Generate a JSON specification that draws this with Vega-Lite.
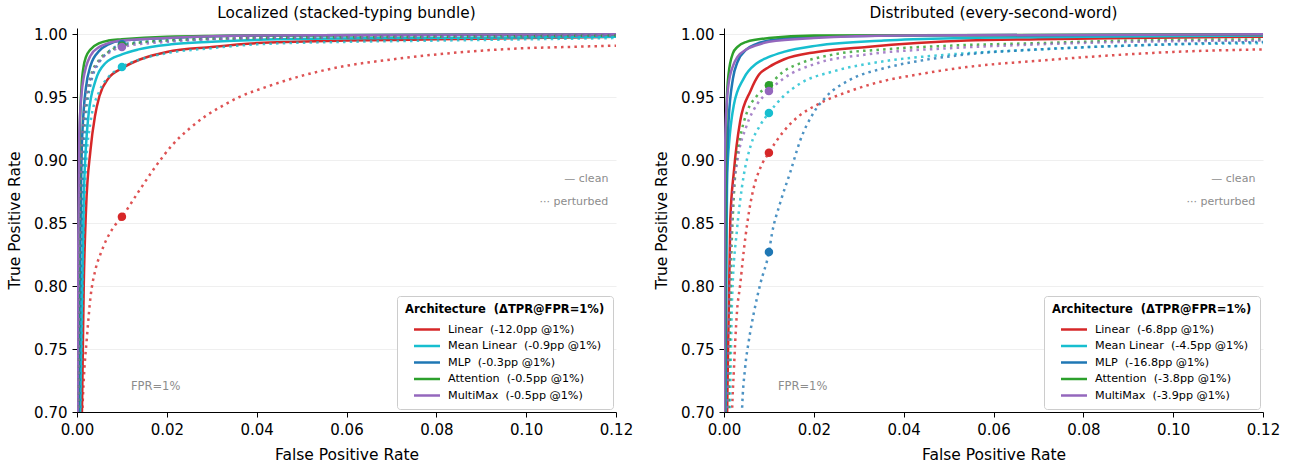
{
  "$schema": "https://vega.github.io/schema/vega-lite/v6.json",
  "background": "white",
  "padding": {"left": 7, "top": 5, "right": 5, "bottom": 3},
  "datasets": {
    "curves": [
      {"panel":"L","arch":"Linear","cond":"clean","fpr":0.0008,"tpr":0.65},
      {"panel":"L","arch":"Linear","cond":"clean","fpr":0.0011,"tpr":0.70},
      {"panel":"L","arch":"Linear","cond":"clean","fpr":0.0015,"tpr":0.80},
      {"panel":"L","arch":"Linear","cond":"clean","fpr":0.002,"tpr":0.86},
      {"panel":"L","arch":"Linear","cond":"clean","fpr":0.003,"tpr":0.908},
      {"panel":"L","arch":"Linear","cond":"clean","fpr":0.004,"tpr":0.935},
      {"panel":"L","arch":"Linear","cond":"clean","fpr":0.005,"tpr":0.951},
      {"panel":"L","arch":"Linear","cond":"clean","fpr":0.007,"tpr":0.965},
      {"panel":"L","arch":"Linear","cond":"clean","fpr":0.01,"tpr":0.973},
      {"panel":"L","arch":"Linear","cond":"clean","fpr":0.014,"tpr":0.98},
      {"panel":"L","arch":"Linear","cond":"clean","fpr":0.02,"tpr":0.986},
      {"panel":"L","arch":"Linear","cond":"clean","fpr":0.03,"tpr":0.99},
      {"panel":"L","arch":"Linear","cond":"clean","fpr":0.04,"tpr":0.993},
      {"panel":"L","arch":"Linear","cond":"clean","fpr":0.06,"tpr":0.995},
      {"panel":"L","arch":"Linear","cond":"clean","fpr":0.08,"tpr":0.996},
      {"panel":"L","arch":"Linear","cond":"clean","fpr":0.1,"tpr":0.997},
      {"panel":"L","arch":"Linear","cond":"clean","fpr":0.12,"tpr":0.998},

      {"panel":"L","arch":"Linear","cond":"perturbed","fpr":0.0009,"tpr":0.65},
      {"panel":"L","arch":"Linear","cond":"perturbed","fpr":0.0012,"tpr":0.70},
      {"panel":"L","arch":"Linear","cond":"perturbed","fpr":0.0015,"tpr":0.725},
      {"panel":"L","arch":"Linear","cond":"perturbed","fpr":0.0022,"tpr":0.759},
      {"panel":"L","arch":"Linear","cond":"perturbed","fpr":0.003,"tpr":0.791},
      {"panel":"L","arch":"Linear","cond":"perturbed","fpr":0.0041,"tpr":0.813},
      {"panel":"L","arch":"Linear","cond":"perturbed","fpr":0.0054,"tpr":0.827},
      {"panel":"L","arch":"Linear","cond":"perturbed","fpr":0.0067,"tpr":0.838},
      {"panel":"L","arch":"Linear","cond":"perturbed","fpr":0.0082,"tpr":0.847},
      {"panel":"L","arch":"Linear","cond":"perturbed","fpr":0.01,"tpr":0.855},
      {"panel":"L","arch":"Linear","cond":"perturbed","fpr":0.0137,"tpr":0.875},
      {"panel":"L","arch":"Linear","cond":"perturbed","fpr":0.0175,"tpr":0.895},
      {"panel":"L","arch":"Linear","cond":"perturbed","fpr":0.0212,"tpr":0.912},
      {"panel":"L","arch":"Linear","cond":"perturbed","fpr":0.025,"tpr":0.925},
      {"panel":"L","arch":"Linear","cond":"perturbed","fpr":0.0286,"tpr":0.935},
      {"panel":"L","arch":"Linear","cond":"perturbed","fpr":0.0323,"tpr":0.943},
      {"panel":"L","arch":"Linear","cond":"perturbed","fpr":0.036,"tpr":0.95},
      {"panel":"L","arch":"Linear","cond":"perturbed","fpr":0.042,"tpr":0.958},
      {"panel":"L","arch":"Linear","cond":"perturbed","fpr":0.05,"tpr":0.967},
      {"panel":"L","arch":"Linear","cond":"perturbed","fpr":0.06,"tpr":0.975},
      {"panel":"L","arch":"Linear","cond":"perturbed","fpr":0.07,"tpr":0.98},
      {"panel":"L","arch":"Linear","cond":"perturbed","fpr":0.08,"tpr":0.984},
      {"panel":"L","arch":"Linear","cond":"perturbed","fpr":0.09,"tpr":0.987},
      {"panel":"L","arch":"Linear","cond":"perturbed","fpr":0.1,"tpr":0.989},
      {"panel":"L","arch":"Linear","cond":"perturbed","fpr":0.11,"tpr":0.99},
      {"panel":"L","arch":"Linear","cond":"perturbed","fpr":0.12,"tpr":0.991},

      {"panel":"L","arch":"Mean Linear","cond":"clean","fpr":0.0005,"tpr":0.65},
      {"panel":"L","arch":"Mean Linear","cond":"clean","fpr":0.0009,"tpr":0.75},
      {"panel":"L","arch":"Mean Linear","cond":"clean","fpr":0.0015,"tpr":0.87},
      {"panel":"L","arch":"Mean Linear","cond":"clean","fpr":0.0026,"tpr":0.937},
      {"panel":"L","arch":"Mean Linear","cond":"clean","fpr":0.0041,"tpr":0.963},
      {"panel":"L","arch":"Mean Linear","cond":"clean","fpr":0.0063,"tpr":0.977},
      {"panel":"L","arch":"Mean Linear","cond":"clean","fpr":0.01,"tpr":0.984},
      {"panel":"L","arch":"Mean Linear","cond":"clean","fpr":0.0137,"tpr":0.988},
      {"panel":"L","arch":"Mean Linear","cond":"clean","fpr":0.021,"tpr":0.992},
      {"panel":"L","arch":"Mean Linear","cond":"clean","fpr":0.03,"tpr":0.994},
      {"panel":"L","arch":"Mean Linear","cond":"clean","fpr":0.045,"tpr":0.996},
      {"panel":"L","arch":"Mean Linear","cond":"clean","fpr":0.07,"tpr":0.997},
      {"panel":"L","arch":"Mean Linear","cond":"clean","fpr":0.12,"tpr":0.998},

      {"panel":"L","arch":"Mean Linear","cond":"perturbed","fpr":0.0006,"tpr":0.65},
      {"panel":"L","arch":"Mean Linear","cond":"perturbed","fpr":0.001,"tpr":0.75},
      {"panel":"L","arch":"Mean Linear","cond":"perturbed","fpr":0.0015,"tpr":0.85},
      {"panel":"L","arch":"Mean Linear","cond":"perturbed","fpr":0.002,"tpr":0.895},
      {"panel":"L","arch":"Mean Linear","cond":"perturbed","fpr":0.003,"tpr":0.93},
      {"panel":"L","arch":"Mean Linear","cond":"perturbed","fpr":0.005,"tpr":0.955},
      {"panel":"L","arch":"Mean Linear","cond":"perturbed","fpr":0.007,"tpr":0.966},
      {"panel":"L","arch":"Mean Linear","cond":"perturbed","fpr":0.01,"tpr":0.974},
      {"panel":"L","arch":"Mean Linear","cond":"perturbed","fpr":0.015,"tpr":0.981},
      {"panel":"L","arch":"Mean Linear","cond":"perturbed","fpr":0.02,"tpr":0.985},
      {"panel":"L","arch":"Mean Linear","cond":"perturbed","fpr":0.03,"tpr":0.989},
      {"panel":"L","arch":"Mean Linear","cond":"perturbed","fpr":0.04,"tpr":0.992},
      {"panel":"L","arch":"Mean Linear","cond":"perturbed","fpr":0.06,"tpr":0.994},
      {"panel":"L","arch":"Mean Linear","cond":"perturbed","fpr":0.08,"tpr":0.995},
      {"panel":"L","arch":"Mean Linear","cond":"perturbed","fpr":0.12,"tpr":0.997},

      {"panel":"L","arch":"MLP","cond":"clean","fpr":0.0003,"tpr":0.65},
      {"panel":"L","arch":"MLP","cond":"clean","fpr":0.0006,"tpr":0.80},
      {"panel":"L","arch":"MLP","cond":"clean","fpr":0.001,"tpr":0.90},
      {"panel":"L","arch":"MLP","cond":"clean","fpr":0.0015,"tpr":0.94},
      {"panel":"L","arch":"MLP","cond":"clean","fpr":0.002,"tpr":0.958},
      {"panel":"L","arch":"MLP","cond":"clean","fpr":0.003,"tpr":0.975},
      {"panel":"L","arch":"MLP","cond":"clean","fpr":0.005,"tpr":0.987},
      {"panel":"L","arch":"MLP","cond":"clean","fpr":0.007,"tpr":0.992},
      {"panel":"L","arch":"MLP","cond":"clean","fpr":0.01,"tpr":0.995},
      {"panel":"L","arch":"MLP","cond":"clean","fpr":0.02,"tpr":0.997},
      {"panel":"L","arch":"MLP","cond":"clean","fpr":0.04,"tpr":0.999},
      {"panel":"L","arch":"MLP","cond":"clean","fpr":0.12,"tpr":1.0},

      {"panel":"L","arch":"MLP","cond":"perturbed","fpr":0.0004,"tpr":0.65},
      {"panel":"L","arch":"MLP","cond":"perturbed","fpr":0.0008,"tpr":0.80},
      {"panel":"L","arch":"MLP","cond":"perturbed","fpr":0.0012,"tpr":0.88},
      {"panel":"L","arch":"MLP","cond":"perturbed","fpr":0.002,"tpr":0.935},
      {"panel":"L","arch":"MLP","cond":"perturbed","fpr":0.003,"tpr":0.96},
      {"panel":"L","arch":"MLP","cond":"perturbed","fpr":0.005,"tpr":0.978},
      {"panel":"L","arch":"MLP","cond":"perturbed","fpr":0.007,"tpr":0.986},
      {"panel":"L","arch":"MLP","cond":"perturbed","fpr":0.01,"tpr":0.992},
      {"panel":"L","arch":"MLP","cond":"perturbed","fpr":0.02,"tpr":0.995},
      {"panel":"L","arch":"MLP","cond":"perturbed","fpr":0.04,"tpr":0.997},
      {"panel":"L","arch":"MLP","cond":"perturbed","fpr":0.08,"tpr":0.998},
      {"panel":"L","arch":"MLP","cond":"perturbed","fpr":0.12,"tpr":0.999},

      {"panel":"L","arch":"Attention","cond":"clean","fpr":0.0001,"tpr":0.60},
      {"panel":"L","arch":"Attention","cond":"clean","fpr":0.0003,"tpr":0.80},
      {"panel":"L","arch":"Attention","cond":"clean","fpr":0.0006,"tpr":0.92},
      {"panel":"L","arch":"Attention","cond":"clean","fpr":0.001,"tpr":0.958},
      {"panel":"L","arch":"Attention","cond":"clean","fpr":0.0015,"tpr":0.975},
      {"panel":"L","arch":"Attention","cond":"clean","fpr":0.002,"tpr":0.982},
      {"panel":"L","arch":"Attention","cond":"clean","fpr":0.003,"tpr":0.988},
      {"panel":"L","arch":"Attention","cond":"clean","fpr":0.005,"tpr":0.993},
      {"panel":"L","arch":"Attention","cond":"clean","fpr":0.007,"tpr":0.995},
      {"panel":"L","arch":"Attention","cond":"clean","fpr":0.01,"tpr":0.996},
      {"panel":"L","arch":"Attention","cond":"clean","fpr":0.02,"tpr":0.998},
      {"panel":"L","arch":"Attention","cond":"clean","fpr":0.04,"tpr":0.999},
      {"panel":"L","arch":"Attention","cond":"clean","fpr":0.12,"tpr":1.0},

      {"panel":"L","arch":"Attention","cond":"perturbed","fpr":0.0003,"tpr":0.65},
      {"panel":"L","arch":"Attention","cond":"perturbed","fpr":0.0006,"tpr":0.82},
      {"panel":"L","arch":"Attention","cond":"perturbed","fpr":0.001,"tpr":0.90},
      {"panel":"L","arch":"Attention","cond":"perturbed","fpr":0.002,"tpr":0.948},
      {"panel":"L","arch":"Attention","cond":"perturbed","fpr":0.003,"tpr":0.966},
      {"panel":"L","arch":"Attention","cond":"perturbed","fpr":0.005,"tpr":0.98},
      {"panel":"L","arch":"Attention","cond":"perturbed","fpr":0.007,"tpr":0.986},
      {"panel":"L","arch":"Attention","cond":"perturbed","fpr":0.01,"tpr":0.991},
      {"panel":"L","arch":"Attention","cond":"perturbed","fpr":0.02,"tpr":0.995},
      {"panel":"L","arch":"Attention","cond":"perturbed","fpr":0.04,"tpr":0.997},
      {"panel":"L","arch":"Attention","cond":"perturbed","fpr":0.08,"tpr":0.998},
      {"panel":"L","arch":"Attention","cond":"perturbed","fpr":0.12,"tpr":0.999},

      {"panel":"L","arch":"MultiMax","cond":"clean","fpr":0.0001,"tpr":0.60},
      {"panel":"L","arch":"MultiMax","cond":"clean","fpr":0.0002,"tpr":0.80},
      {"panel":"L","arch":"MultiMax","cond":"clean","fpr":0.0005,"tpr":0.92},
      {"panel":"L","arch":"MultiMax","cond":"clean","fpr":0.001,"tpr":0.952},
      {"panel":"L","arch":"MultiMax","cond":"clean","fpr":0.0015,"tpr":0.966},
      {"panel":"L","arch":"MultiMax","cond":"clean","fpr":0.002,"tpr":0.974},
      {"panel":"L","arch":"MultiMax","cond":"clean","fpr":0.003,"tpr":0.983},
      {"panel":"L","arch":"MultiMax","cond":"clean","fpr":0.005,"tpr":0.99},
      {"panel":"L","arch":"MultiMax","cond":"clean","fpr":0.007,"tpr":0.993},
      {"panel":"L","arch":"MultiMax","cond":"clean","fpr":0.01,"tpr":0.995},
      {"panel":"L","arch":"MultiMax","cond":"clean","fpr":0.02,"tpr":0.997},
      {"panel":"L","arch":"MultiMax","cond":"clean","fpr":0.04,"tpr":0.999},
      {"panel":"L","arch":"MultiMax","cond":"clean","fpr":0.12,"tpr":1.0},

      {"panel":"L","arch":"MultiMax","cond":"perturbed","fpr":0.0002,"tpr":0.65},
      {"panel":"L","arch":"MultiMax","cond":"perturbed","fpr":0.0005,"tpr":0.82},
      {"panel":"L","arch":"MultiMax","cond":"perturbed","fpr":0.001,"tpr":0.905},
      {"panel":"L","arch":"MultiMax","cond":"perturbed","fpr":0.002,"tpr":0.95},
      {"panel":"L","arch":"MultiMax","cond":"perturbed","fpr":0.003,"tpr":0.965},
      {"panel":"L","arch":"MultiMax","cond":"perturbed","fpr":0.005,"tpr":0.979},
      {"panel":"L","arch":"MultiMax","cond":"perturbed","fpr":0.007,"tpr":0.985},
      {"panel":"L","arch":"MultiMax","cond":"perturbed","fpr":0.01,"tpr":0.99},
      {"panel":"L","arch":"MultiMax","cond":"perturbed","fpr":0.02,"tpr":0.994},
      {"panel":"L","arch":"MultiMax","cond":"perturbed","fpr":0.04,"tpr":0.997},
      {"panel":"L","arch":"MultiMax","cond":"perturbed","fpr":0.08,"tpr":0.998},
      {"panel":"L","arch":"MultiMax","cond":"perturbed","fpr":0.12,"tpr":0.999},

      {"panel":"R","arch":"Linear","cond":"clean","fpr":0.0005,"tpr":0.65},
      {"panel":"R","arch":"Linear","cond":"clean","fpr":0.0007,"tpr":0.70},
      {"panel":"R","arch":"Linear","cond":"clean","fpr":0.0014,"tpr":0.852},
      {"panel":"R","arch":"Linear","cond":"clean","fpr":0.0022,"tpr":0.891},
      {"panel":"R","arch":"Linear","cond":"clean","fpr":0.0036,"tpr":0.931},
      {"panel":"R","arch":"Linear","cond":"clean","fpr":0.0059,"tpr":0.955},
      {"panel":"R","arch":"Linear","cond":"clean","fpr":0.0078,"tpr":0.968},
      {"panel":"R","arch":"Linear","cond":"clean","fpr":0.01,"tpr":0.974},
      {"panel":"R","arch":"Linear","cond":"clean","fpr":0.0133,"tpr":0.98},
      {"panel":"R","arch":"Linear","cond":"clean","fpr":0.0207,"tpr":0.986},
      {"panel":"R","arch":"Linear","cond":"clean","fpr":0.0318,"tpr":0.99},
      {"panel":"R","arch":"Linear","cond":"clean","fpr":0.043,"tpr":0.993},
      {"panel":"R","arch":"Linear","cond":"clean","fpr":0.054,"tpr":0.995},
      {"panel":"R","arch":"Linear","cond":"clean","fpr":0.07,"tpr":0.996},
      {"panel":"R","arch":"Linear","cond":"clean","fpr":0.09,"tpr":0.997},
      {"panel":"R","arch":"Linear","cond":"clean","fpr":0.12,"tpr":0.998},

      {"panel":"R","arch":"Linear","cond":"perturbed","fpr":0.0015,"tpr":0.65},
      {"panel":"R","arch":"Linear","cond":"perturbed","fpr":0.0018,"tpr":0.70},
      {"panel":"R","arch":"Linear","cond":"perturbed","fpr":0.0022,"tpr":0.733},
      {"panel":"R","arch":"Linear","cond":"perturbed","fpr":0.0025,"tpr":0.756},
      {"panel":"R","arch":"Linear","cond":"perturbed","fpr":0.0029,"tpr":0.78},
      {"panel":"R","arch":"Linear","cond":"perturbed","fpr":0.0036,"tpr":0.801},
      {"panel":"R","arch":"Linear","cond":"perturbed","fpr":0.0044,"tpr":0.828},
      {"panel":"R","arch":"Linear","cond":"perturbed","fpr":0.0059,"tpr":0.866},
      {"panel":"R","arch":"Linear","cond":"perturbed","fpr":0.0066,"tpr":0.878},
      {"panel":"R","arch":"Linear","cond":"perturbed","fpr":0.0081,"tpr":0.894},
      {"panel":"R","arch":"Linear","cond":"perturbed","fpr":0.01,"tpr":0.906},
      {"panel":"R","arch":"Linear","cond":"perturbed","fpr":0.0133,"tpr":0.923},
      {"panel":"R","arch":"Linear","cond":"perturbed","fpr":0.017,"tpr":0.936},
      {"panel":"R","arch":"Linear","cond":"perturbed","fpr":0.0207,"tpr":0.944},
      {"panel":"R","arch":"Linear","cond":"perturbed","fpr":0.0281,"tpr":0.955},
      {"panel":"R","arch":"Linear","cond":"perturbed","fpr":0.0356,"tpr":0.963},
      {"panel":"R","arch":"Linear","cond":"perturbed","fpr":0.043,"tpr":0.968},
      {"panel":"R","arch":"Linear","cond":"perturbed","fpr":0.054,"tpr":0.974},
      {"panel":"R","arch":"Linear","cond":"perturbed","fpr":0.07,"tpr":0.979},
      {"panel":"R","arch":"Linear","cond":"perturbed","fpr":0.085,"tpr":0.983},
      {"panel":"R","arch":"Linear","cond":"perturbed","fpr":0.1,"tpr":0.986},
      {"panel":"R","arch":"Linear","cond":"perturbed","fpr":0.12,"tpr":0.988},

      {"panel":"R","arch":"Mean Linear","cond":"clean","fpr":0.0003,"tpr":0.65},
      {"panel":"R","arch":"Mean Linear","cond":"clean","fpr":0.0004,"tpr":0.75},
      {"panel":"R","arch":"Mean Linear","cond":"clean","fpr":0.0007,"tpr":0.89},
      {"panel":"R","arch":"Mean Linear","cond":"clean","fpr":0.0022,"tpr":0.944},
      {"panel":"R","arch":"Mean Linear","cond":"clean","fpr":0.0044,"tpr":0.965},
      {"panel":"R","arch":"Mean Linear","cond":"clean","fpr":0.0073,"tpr":0.977},
      {"panel":"R","arch":"Mean Linear","cond":"clean","fpr":0.01,"tpr":0.982},
      {"panel":"R","arch":"Mean Linear","cond":"clean","fpr":0.0133,"tpr":0.986},
      {"panel":"R","arch":"Mean Linear","cond":"clean","fpr":0.0207,"tpr":0.991},
      {"panel":"R","arch":"Mean Linear","cond":"clean","fpr":0.0356,"tpr":0.995},
      {"panel":"R","arch":"Mean Linear","cond":"clean","fpr":0.054,"tpr":0.997},
      {"panel":"R","arch":"Mean Linear","cond":"clean","fpr":0.08,"tpr":0.998},
      {"panel":"R","arch":"Mean Linear","cond":"clean","fpr":0.12,"tpr":0.999},

      {"panel":"R","arch":"Mean Linear","cond":"perturbed","fpr":0.001,"tpr":0.65},
      {"panel":"R","arch":"Mean Linear","cond":"perturbed","fpr":0.0013,"tpr":0.70},
      {"panel":"R","arch":"Mean Linear","cond":"perturbed","fpr":0.0018,"tpr":0.79},
      {"panel":"R","arch":"Mean Linear","cond":"perturbed","fpr":0.0029,"tpr":0.845},
      {"panel":"R","arch":"Mean Linear","cond":"perturbed","fpr":0.0036,"tpr":0.868},
      {"panel":"R","arch":"Mean Linear","cond":"perturbed","fpr":0.0044,"tpr":0.888},
      {"panel":"R","arch":"Mean Linear","cond":"perturbed","fpr":0.0059,"tpr":0.911},
      {"panel":"R","arch":"Mean Linear","cond":"perturbed","fpr":0.0081,"tpr":0.928},
      {"panel":"R","arch":"Mean Linear","cond":"perturbed","fpr":0.01,"tpr":0.9375},
      {"panel":"R","arch":"Mean Linear","cond":"perturbed","fpr":0.0133,"tpr":0.951},
      {"panel":"R","arch":"Mean Linear","cond":"perturbed","fpr":0.017,"tpr":0.961},
      {"panel":"R","arch":"Mean Linear","cond":"perturbed","fpr":0.0244,"tpr":0.9706},
      {"panel":"R","arch":"Mean Linear","cond":"perturbed","fpr":0.0356,"tpr":0.9786},
      {"panel":"R","arch":"Mean Linear","cond":"perturbed","fpr":0.0504,"tpr":0.984},
      {"panel":"R","arch":"Mean Linear","cond":"perturbed","fpr":0.07,"tpr":0.988},
      {"panel":"R","arch":"Mean Linear","cond":"perturbed","fpr":0.09,"tpr":0.991},
      {"panel":"R","arch":"Mean Linear","cond":"perturbed","fpr":0.12,"tpr":0.993},

      {"panel":"R","arch":"MLP","cond":"clean","fpr":0.0002,"tpr":0.65},
      {"panel":"R","arch":"MLP","cond":"clean","fpr":0.0005,"tpr":0.85},
      {"panel":"R","arch":"MLP","cond":"clean","fpr":0.001,"tpr":0.93},
      {"panel":"R","arch":"MLP","cond":"clean","fpr":0.002,"tpr":0.965},
      {"panel":"R","arch":"MLP","cond":"clean","fpr":0.003,"tpr":0.978},
      {"panel":"R","arch":"MLP","cond":"clean","fpr":0.005,"tpr":0.988},
      {"panel":"R","arch":"MLP","cond":"clean","fpr":0.007,"tpr":0.992},
      {"panel":"R","arch":"MLP","cond":"clean","fpr":0.01,"tpr":0.995},
      {"panel":"R","arch":"MLP","cond":"clean","fpr":0.02,"tpr":0.998},
      {"panel":"R","arch":"MLP","cond":"clean","fpr":0.04,"tpr":0.999},
      {"panel":"R","arch":"MLP","cond":"clean","fpr":0.12,"tpr":1.0},

      {"panel":"R","arch":"MLP","cond":"perturbed","fpr":0.0036,"tpr":0.65},
      {"panel":"R","arch":"MLP","cond":"perturbed","fpr":0.004,"tpr":0.70},
      {"panel":"R","arch":"MLP","cond":"perturbed","fpr":0.0047,"tpr":0.735},
      {"panel":"R","arch":"MLP","cond":"perturbed","fpr":0.0055,"tpr":0.756},
      {"panel":"R","arch":"MLP","cond":"perturbed","fpr":0.0066,"tpr":0.778},
      {"panel":"R","arch":"MLP","cond":"perturbed","fpr":0.0081,"tpr":0.802},
      {"panel":"R","arch":"MLP","cond":"perturbed","fpr":0.01,"tpr":0.827},
      {"panel":"R","arch":"MLP","cond":"perturbed","fpr":0.0107,"tpr":0.842},
      {"panel":"R","arch":"MLP","cond":"perturbed","fpr":0.0125,"tpr":0.866},
      {"panel":"R","arch":"MLP","cond":"perturbed","fpr":0.0148,"tpr":0.891},
      {"panel":"R","arch":"MLP","cond":"perturbed","fpr":0.017,"tpr":0.916},
      {"panel":"R","arch":"MLP","cond":"perturbed","fpr":0.02,"tpr":0.938},
      {"panel":"R","arch":"MLP","cond":"perturbed","fpr":0.0229,"tpr":0.951},
      {"panel":"R","arch":"MLP","cond":"perturbed","fpr":0.0281,"tpr":0.964},
      {"panel":"R","arch":"MLP","cond":"perturbed","fpr":0.0356,"tpr":0.973},
      {"panel":"R","arch":"MLP","cond":"perturbed","fpr":0.043,"tpr":0.9786},
      {"panel":"R","arch":"MLP","cond":"perturbed","fpr":0.054,"tpr":0.984},
      {"panel":"R","arch":"MLP","cond":"perturbed","fpr":0.07,"tpr":0.988},
      {"panel":"R","arch":"MLP","cond":"perturbed","fpr":0.09,"tpr":0.991},
      {"panel":"R","arch":"MLP","cond":"perturbed","fpr":0.12,"tpr":0.994},

      {"panel":"R","arch":"Attention","cond":"clean","fpr":0.0001,"tpr":0.65},
      {"panel":"R","arch":"Attention","cond":"clean","fpr":0.0003,"tpr":0.88},
      {"panel":"R","arch":"Attention","cond":"clean","fpr":0.0006,"tpr":0.945},
      {"panel":"R","arch":"Attention","cond":"clean","fpr":0.001,"tpr":0.968},
      {"panel":"R","arch":"Attention","cond":"clean","fpr":0.002,"tpr":0.985},
      {"panel":"R","arch":"Attention","cond":"clean","fpr":0.003,"tpr":0.99},
      {"panel":"R","arch":"Attention","cond":"clean","fpr":0.005,"tpr":0.994},
      {"panel":"R","arch":"Attention","cond":"clean","fpr":0.01,"tpr":0.997},
      {"panel":"R","arch":"Attention","cond":"clean","fpr":0.02,"tpr":0.999},
      {"panel":"R","arch":"Attention","cond":"clean","fpr":0.12,"tpr":1.0},

      {"panel":"R","arch":"Attention","cond":"perturbed","fpr":0.0007,"tpr":0.65},
      {"panel":"R","arch":"Attention","cond":"perturbed","fpr":0.001,"tpr":0.70},
      {"panel":"R","arch":"Attention","cond":"perturbed","fpr":0.0014,"tpr":0.79},
      {"panel":"R","arch":"Attention","cond":"perturbed","fpr":0.0022,"tpr":0.872},
      {"panel":"R","arch":"Attention","cond":"perturbed","fpr":0.0029,"tpr":0.903},
      {"panel":"R","arch":"Attention","cond":"perturbed","fpr":0.0036,"tpr":0.918},
      {"panel":"R","arch":"Attention","cond":"perturbed","fpr":0.0051,"tpr":0.938},
      {"panel":"R","arch":"Attention","cond":"perturbed","fpr":0.0073,"tpr":0.951},
      {"panel":"R","arch":"Attention","cond":"perturbed","fpr":0.01,"tpr":0.9595},
      {"panel":"R","arch":"Attention","cond":"perturbed","fpr":0.0133,"tpr":0.9706},
      {"panel":"R","arch":"Attention","cond":"perturbed","fpr":0.017,"tpr":0.977},
      {"panel":"R","arch":"Attention","cond":"perturbed","fpr":0.0244,"tpr":0.984},
      {"panel":"R","arch":"Attention","cond":"perturbed","fpr":0.0356,"tpr":0.988},
      {"panel":"R","arch":"Attention","cond":"perturbed","fpr":0.0504,"tpr":0.991},
      {"panel":"R","arch":"Attention","cond":"perturbed","fpr":0.07,"tpr":0.993},
      {"panel":"R","arch":"Attention","cond":"perturbed","fpr":0.09,"tpr":0.995},
      {"panel":"R","arch":"Attention","cond":"perturbed","fpr":0.12,"tpr":0.996},

      {"panel":"R","arch":"MultiMax","cond":"clean","fpr":0.00005,"tpr":0.65},
      {"panel":"R","arch":"MultiMax","cond":"clean","fpr":0.0001,"tpr":0.85},
      {"panel":"R","arch":"MultiMax","cond":"clean","fpr":0.0003,"tpr":0.92},
      {"panel":"R","arch":"MultiMax","cond":"clean","fpr":0.0006,"tpr":0.945},
      {"panel":"R","arch":"MultiMax","cond":"clean","fpr":0.001,"tpr":0.96},
      {"panel":"R","arch":"MultiMax","cond":"clean","fpr":0.002,"tpr":0.975},
      {"panel":"R","arch":"MultiMax","cond":"clean","fpr":0.003,"tpr":0.982},
      {"panel":"R","arch":"MultiMax","cond":"clean","fpr":0.005,"tpr":0.988},
      {"panel":"R","arch":"MultiMax","cond":"clean","fpr":0.007,"tpr":0.991},
      {"panel":"R","arch":"MultiMax","cond":"clean","fpr":0.01,"tpr":0.994},
      {"panel":"R","arch":"MultiMax","cond":"clean","fpr":0.02,"tpr":0.997},
      {"panel":"R","arch":"MultiMax","cond":"clean","fpr":0.04,"tpr":0.999},
      {"panel":"R","arch":"MultiMax","cond":"clean","fpr":0.12,"tpr":1.0},

      {"panel":"R","arch":"MultiMax","cond":"perturbed","fpr":0.0005,"tpr":0.65},
      {"panel":"R","arch":"MultiMax","cond":"perturbed","fpr":0.0008,"tpr":0.70},
      {"panel":"R","arch":"MultiMax","cond":"perturbed","fpr":0.0014,"tpr":0.82},
      {"panel":"R","arch":"MultiMax","cond":"perturbed","fpr":0.002,"tpr":0.87},
      {"panel":"R","arch":"MultiMax","cond":"perturbed","fpr":0.003,"tpr":0.90},
      {"panel":"R","arch":"MultiMax","cond":"perturbed","fpr":0.005,"tpr":0.927},
      {"panel":"R","arch":"MultiMax","cond":"perturbed","fpr":0.0073,"tpr":0.944},
      {"panel":"R","arch":"MultiMax","cond":"perturbed","fpr":0.01,"tpr":0.955},
      {"panel":"R","arch":"MultiMax","cond":"perturbed","fpr":0.0133,"tpr":0.965},
      {"panel":"R","arch":"MultiMax","cond":"perturbed","fpr":0.0207,"tpr":0.977},
      {"panel":"R","arch":"MultiMax","cond":"perturbed","fpr":0.0318,"tpr":0.984},
      {"panel":"R","arch":"MultiMax","cond":"perturbed","fpr":0.0504,"tpr":0.989},
      {"panel":"R","arch":"MultiMax","cond":"perturbed","fpr":0.07,"tpr":0.992},
      {"panel":"R","arch":"MultiMax","cond":"perturbed","fpr":0.09,"tpr":0.994},
      {"panel":"R","arch":"MultiMax","cond":"perturbed","fpr":0.12,"tpr":0.995}
    ],
    "dots": [
      {"panel":"L","arch":"Linear","fpr":0.01,"tpr":0.855},
      {"panel":"L","arch":"Mean Linear","fpr":0.01,"tpr":0.974},
      {"panel":"L","arch":"MLP","fpr":0.01,"tpr":0.992},
      {"panel":"L","arch":"Attention","fpr":0.01,"tpr":0.991},
      {"panel":"L","arch":"MultiMax","fpr":0.01,"tpr":0.990},
      {"panel":"R","arch":"Linear","fpr":0.01,"tpr":0.906},
      {"panel":"R","arch":"Mean Linear","fpr":0.01,"tpr":0.9375},
      {"panel":"R","arch":"MLP","fpr":0.01,"tpr":0.827},
      {"panel":"R","arch":"Attention","fpr":0.01,"tpr":0.9595},
      {"panel":"R","arch":"MultiMax","fpr":0.01,"tpr":0.955}
    ],
    "notes": [
      {"fpr":0.1183,"tpr":0.885,"txt":"— clean"},
      {"fpr":0.1183,"tpr":0.8667,"txt":"··· perturbed"}
    ],
    "marker": [
      {"fpr":0.012,"tpr":0.7198,"txt":"FPR=1%"}
    ]
  },
  "hconcat": [
    {
      "width": 539, "height": 384,
      "title": "Localized (stacked-typing bundle)",
      "layer": [
        {
          "mark": {"type": "rule", "color": "#888888", "strokeWidth": 1, "strokeDash": [1.5, 2.5]},
          "encoding": {"x": {"datum": 0.01, "type": "quantitative"}}
        },
        {
          "data": {"name": "curves"},
          "transform": [{"filter": "datum.panel === 'L' && datum.cond === 'clean'"}],
          "mark": {"type": "line", "clip": true, "strokeWidth": 2.5, "interpolate": "monotone"},
          "encoding": {
            "x": {"field": "fpr", "type": "quantitative", "scale": {"domain": [0, 0.12], "nice": false, "zero": false},
                  "axis": {"values": [0, 0.02, 0.04, 0.06, 0.08, 0.1, 0.12], "format": ".2f", "title": "False Positive Rate"}},
            "y": {"field": "tpr", "type": "quantitative", "scale": {"domain": [0.7, 1.005], "nice": false, "zero": false},
                  "axis": {"values": [0.7, 0.75, 0.8, 0.85, 0.9, 0.95, 1.0], "format": ".2f", "title": "True Positive Rate"}},
            "color": {"field": "arch", "type": "nominal",
                      "scale": {"domain": ["Linear", "Mean Linear", "MLP", "Attention", "MultiMax"], "range": ["#d62728", "#17becf", "#1f77b4", "#2ca02c", "#9467bd"]},
                      "legend": {"title": "Architecture\u00a0 (ΔTPR@FPR=1%)",
                                 "labelExpr": "{'Linear':'Linear\u00a0 (-12.0pp @1%)','Mean Linear':'Mean Linear\u00a0 (-0.9pp @1%)','MLP':'MLP\u00a0 (-0.3pp @1%)','Attention':'Attention\u00a0 (-0.5pp @1%)','MultiMax':'MultiMax\u00a0 (-0.5pp @1%)'}[datum.label]"}}
          }
        },
        {
          "data": {"name": "curves"},
          "transform": [{"filter": "datum.panel === 'L' && datum.cond === 'perturbed'"}],
          "mark": {"type": "line", "clip": true, "strokeWidth": 2.5, "strokeDash": [2.5, 4.2], "opacity": 0.8, "interpolate": "monotone"},
          "encoding": {
            "x": {"field": "fpr", "type": "quantitative"},
            "y": {"field": "tpr", "type": "quantitative"},
            "color": {"field": "arch", "type": "nominal", "legend": null}
          }
        },
        {
          "data": {"name": "dots"},
          "transform": [{"filter": "datum.panel === 'L'"}],
          "mark": {"type": "circle", "size": 72, "opacity": 1},
          "encoding": {
            "x": {"field": "fpr", "type": "quantitative"},
            "y": {"field": "tpr", "type": "quantitative"},
            "color": {"field": "arch", "type": "nominal", "legend": null}
          }
        },
        {
          "data": {"name": "notes"},
          "mark": {"type": "text", "fontSize": 11, "color": "#8c8c8c", "baseline": "middle", "align": "right"},
          "encoding": {
            "x": {"field": "fpr", "type": "quantitative"},
            "y": {"field": "tpr", "type": "quantitative"},
            "text": {"field": "txt"}
          }
        },
        {
          "data": {"name": "marker"},
          "mark": {"type": "text", "fontSize": 11.5, "color": "#8c8c8c", "baseline": "middle", "align": "left"},
          "encoding": {
            "x": {"field": "fpr", "type": "quantitative"},
            "y": {"field": "tpr", "type": "quantitative"},
            "text": {"field": "txt"}
          }
        }
      ]
    },
    {
      "width": 539, "height": 384,
      "title": "Distributed (every-second-word)",
      "layer": [
        {
          "mark": {"type": "rule", "color": "#888888", "strokeWidth": 1, "strokeDash": [1.5, 2.5]},
          "encoding": {"x": {"datum": 0.01, "type": "quantitative"}}
        },
        {
          "data": {"name": "curves"},
          "transform": [{"filter": "datum.panel === 'R' && datum.cond === 'clean'"}],
          "mark": {"type": "line", "clip": true, "strokeWidth": 2.5, "interpolate": "monotone"},
          "encoding": {
            "x": {"field": "fpr", "type": "quantitative", "scale": {"domain": [0, 0.12], "nice": false, "zero": false},
                  "axis": {"values": [0, 0.02, 0.04, 0.06, 0.08, 0.1, 0.12], "format": ".2f", "title": "False Positive Rate"}},
            "y": {"field": "tpr", "type": "quantitative", "scale": {"domain": [0.7, 1.005], "nice": false, "zero": false},
                  "axis": {"values": [0.7, 0.75, 0.8, 0.85, 0.9, 0.95, 1.0], "format": ".2f", "title": "True Positive Rate"}},
            "color": {"field": "arch", "type": "nominal",
                      "scale": {"domain": ["Linear", "Mean Linear", "MLP", "Attention", "MultiMax"], "range": ["#d62728", "#17becf", "#1f77b4", "#2ca02c", "#9467bd"]},
                      "legend": {"title": "Architecture\u00a0 (ΔTPR@FPR=1%)",
                                 "labelExpr": "{'Linear':'Linear\u00a0 (-6.8pp @1%)','Mean Linear':'Mean Linear\u00a0 (-4.5pp @1%)','MLP':'MLP\u00a0 (-16.8pp @1%)','Attention':'Attention\u00a0 (-3.8pp @1%)','MultiMax':'MultiMax\u00a0 (-3.9pp @1%)'}[datum.label]"}}
          }
        },
        {
          "data": {"name": "curves"},
          "transform": [{"filter": "datum.panel === 'R' && datum.cond === 'perturbed'"}],
          "mark": {"type": "line", "clip": true, "strokeWidth": 2.5, "strokeDash": [2.5, 4.2], "opacity": 0.8, "interpolate": "monotone"},
          "encoding": {
            "x": {"field": "fpr", "type": "quantitative"},
            "y": {"field": "tpr", "type": "quantitative"},
            "color": {"field": "arch", "type": "nominal", "legend": null}
          }
        },
        {
          "data": {"name": "dots"},
          "transform": [{"filter": "datum.panel === 'R'"}],
          "mark": {"type": "circle", "size": 72, "opacity": 1},
          "encoding": {
            "x": {"field": "fpr", "type": "quantitative"},
            "y": {"field": "tpr", "type": "quantitative"},
            "color": {"field": "arch", "type": "nominal", "legend": null}
          }
        },
        {
          "data": {"name": "notes"},
          "mark": {"type": "text", "fontSize": 11, "color": "#8c8c8c", "baseline": "middle", "align": "right"},
          "encoding": {
            "x": {"field": "fpr", "type": "quantitative"},
            "y": {"field": "tpr", "type": "quantitative"},
            "text": {"field": "txt"}
          }
        },
        {
          "data": {"name": "marker"},
          "mark": {"type": "text", "fontSize": 11.5, "color": "#8c8c8c", "baseline": "middle", "align": "left"},
          "encoding": {
            "x": {"field": "fpr", "type": "quantitative"},
            "y": {"field": "tpr", "type": "quantitative"},
            "text": {"field": "txt"}
          }
        }
      ]
    }
  ],
  "spacing": 108,
  "bounds": "flush",
  "resolve": {"scale": {"color": "independent"}, "legend": {"color": "independent"}},
  "config": {
    "view": {"stroke": null},
    "font": "DejaVu Sans",
    "axis": {"domainColor": "#000000", "domainWidth": 1, "tickColor": "#000000", "tickSize": 5, "tickWidth": 1,
             "labelFont": "DejaVu Sans", "labelFontSize": 15, "labelColor": "#000000", "labelPadding": 5, "labelFlush": false,
             "titleFont": "DejaVu Sans", "titleFontSize": 15.5, "titleFontWeight": "normal", "titleColor": "#000000",
             "gridColor": "#ebebeb", "gridWidth": 0.8},
    "axisY": {"titlePadding": 11},
    "axisX": {"titlePadding": 10},
    "title": {"font": "DejaVu Sans", "fontSize": 15.3, "fontWeight": "normal", "color": "#000000", "offset": 6},
    "legend": {"orient": "bottom-right", "offset": 3, "padding": 8, "fillColor": "white", "strokeColor": "#cccccc", "cornerRadius": 3,
               "titleFont": "DejaVu Sans", "titleFontSize": 11.5, "titleFontWeight": "bold", "titleColor": "#000000", "titlePadding": 4, "titleLimit": 400,
               "labelFont": "DejaVu Sans", "labelFontSize": 11.2, "labelColor": "#000000", "labelOffset": 11, "labelLimit": 400,
               "symbolType": "M-1.5,0H1.5", "symbolSize": 300, "symbolStrokeWidth": 2.5, "symbolOffset": 12, "rowPadding": 0.5}
  }
}
